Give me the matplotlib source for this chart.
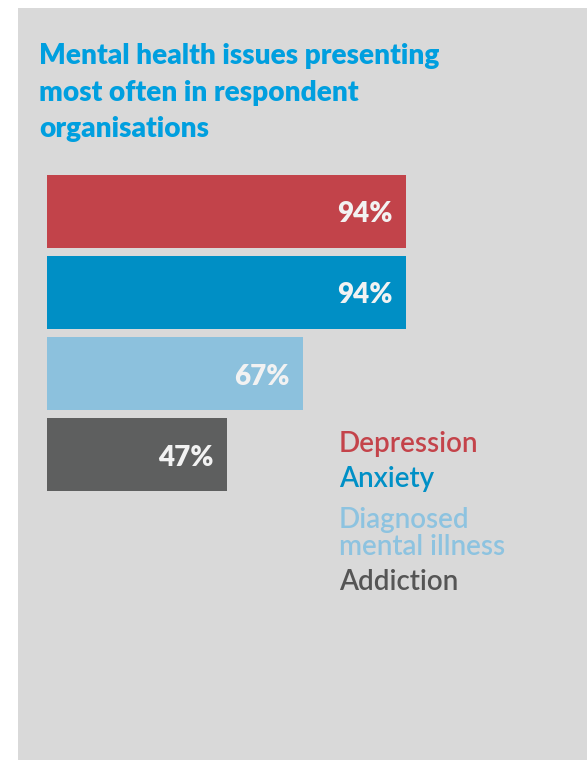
import matplotlib.pyplot as plt
from matplotlib.patches import Rectangle

# data
categories = ['Depression', 'Anxiety', 'Diagnosed\nmental illness', 'Addiction']
values = [94, 94, 67, 47]
bar_colors = ['#c2434a', '#008fc5', '#8cc1dd', '#5e5f5f']
text_colors = ['#c4434a', '#0090c6', '#8dc3e0', '#555555']
title = 'Mental health issues presenting\nmost often in respondent\norganisations'

W, H = 587, 760
FONT = ['Lato', 'DejaVu Sans']

fig = plt.figure(figsize=(W / 100, H / 100), dpi=100)
fig.patch.set_facecolor('white')
# grey panel behind everything
fig.add_artist(Rectangle((18 / W, 0), 1, 1 - 8 / H, transform=fig.transFigure,
                         facecolor='#d9d9d9', edgecolor='none', zorder=0))

# title, placed by the baseline of its last line
fig.text(39 / W, 1 - 137 / H, title, ha='left', va='baseline', color='#009fdf',
         fontsize=20.2, fontweight='heavy', family=FONT, linespacing=1.5)

ax = fig.add_axes([47 / W, (H - 491) / H, 382 / W, 316 / H])
ax.set_facecolor('none')
pos = list(range(len(values)))
ax.barh(pos, values, height=0.9, color=bar_colors)
ax.set_xlim(0, 100)
ax.set_ylim(len(values) - 0.55, -0.45)
ax.axis('off')

for i, v in enumerate(values):
    ax.annotate(f'{v}%', (v, i), xytext=(-13, -3), textcoords='offset pixels',
                ha='right', va='center', color='#f2f2f2', fontsize=20,
                fontweight='heavy', family=FONT)

# legend as coloured text lines
baselines = [452, 487, 555, 590]
for name, c, b in zip(categories, text_colors, baselines):
    fig.text(339 / W, 1 - b / H, name, ha='left', va='baseline', color=c,
             fontsize=20, fontweight='semibold', family=FONT, linespacing=1.05)

fig.savefig('out.png', dpi=100)
